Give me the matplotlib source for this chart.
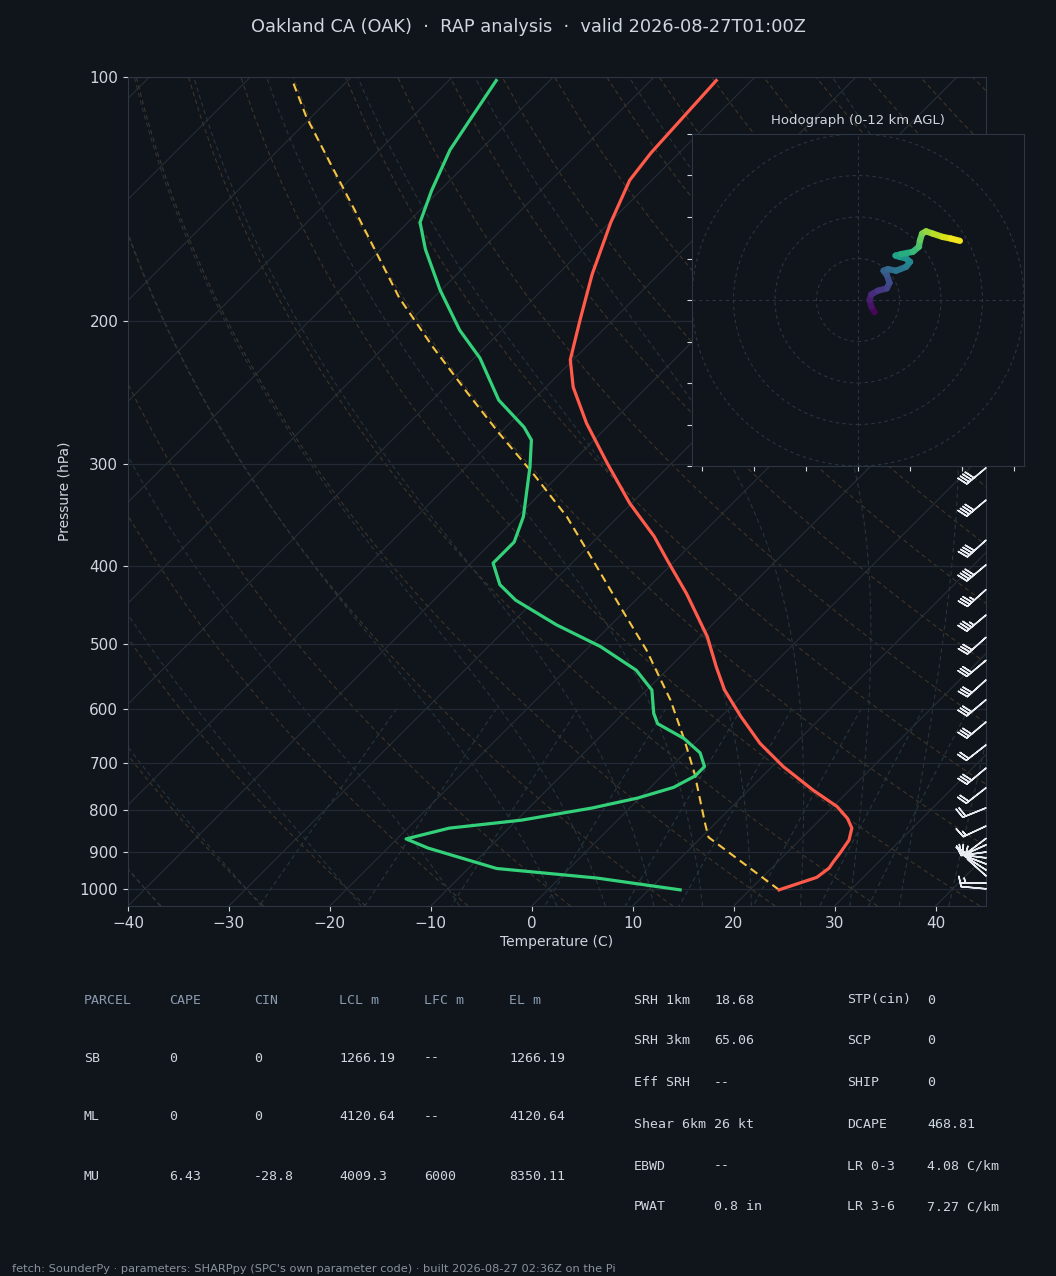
import numpy as np
import matplotlib
matplotlib.use("Agg")
import matplotlib.pyplot as plt
from matplotlib.transforms import Affine2D
from matplotlib.collections import LineCollection
from matplotlib.patches import Circle

BG = "#10141b"
SPINE = "#2d3642"
GRID = "#232a33"
TXT = "#d0d6de"
MUTED = "#8b9bb0"

# --- sounding ---
temp_p = [1003, 968, 943, 926, 904, 871, 842, 819, 792, 756, 707, 662, 613, 569,
          533, 489, 433, 394, 368, 335, 299, 267, 241, 223, 199, 175, 151, 134, 124, 101]
temp_c = [22.9, 25.4, 25.7, 25.5, 25.3, 24.9, 24.0, 22.6, 20.4, 16.4, 11.1, 6.5, 1.9, -2.3,
          -5.4, -9.3, -15.6, -20.8, -24.5, -30.2, -36.4, -42.4, -47.3, -50.3, -53.3, -56.6,
          -59.9, -62.2, -62.8, -63.5]

dwpt_p = [1003, 970, 944, 891, 868, 842, 823, 795, 773, 750, 726, 707, 680, 653, 626,
          608, 569, 538, 503, 473, 441, 422, 397, 374, 348, 302, 280, 270, 250, 222,
          205, 183, 163, 151, 138, 123, 113, 101]
dwpt_c = [13.1, 3.7, -7.2, -16.0, -19.1, -15.9, -9.5, -3.7, -0.2, 2.3, 3.3, 3.3, 1.5, -1.5,
          -5.6, -7.0, -9.5, -13.0, -18.9, -25.4, -31.9, -35.0, -37.8, -37.8, -39.4, -43.7,
          -46.2, -48.2, -53.4, -59.4, -64.2, -70.1, -75.6, -78.8, -80.8, -83.0, -84.0, -85.3]

parcel_p = [1003, 864, 831, 721, 656, 585, 508, 454, 398, 348, 309, 275, 245, 215, 187,
            150, 130, 112, 101]
parcel_c = [22.9, 10.7, 9.0, 3.0, -1.3, -6.7, -14.0, -20.3, -27.6, -35.1, -42.5, -50.0,
            -57.2, -65.2, -73.4, -85.0, -92.6, -100.5, -105.5]

# wind barbs: pressure, direction (deg), speed (kt)
barb_p = [1000, 984, 964, 948, 932, 916, 901, 883, 867, 837, 795, 751, 710, 665, 623,
          585, 553, 523, 490, 460, 428, 399, 372, 332, 303, 275, 250, 225, 200]
barb_dir = [275, 270, 312, 303, 291, 277, 262, 246, 233, 245, 248, 232, 230, 232, 230,
            230, 228, 230, 228, 230, 228, 230, 228, 230, 230, 232, 235, 238, 240]
barb_spd = [10, 5, 10, 10, 10, 10, 10, 10, 10, 15, 20, 20, 30, 20, 30,
            30, 30, 30, 30, 35, 35, 40, 40, 40, 40, 45, 45, 50, 50]

# hodograph (kt) and height (km)
hodo_u = [8.0, 6.4, 5.6, 6.4, 9.6, 13.9, 15.2, 13.9, 12.3, 14.4, 18.4, 23.2, 25.1,
          23.2, 20.0, 18.1, 20.8, 26.4, 29.3, 29.9, 30.9, 32.8, 36.0, 40.8, 44.8, 49.1]
hodo_v = [-5.9, -3.2, 0.0, 2.7, 4.5, 5.6, 8.3, 12.0, 14.1, 14.9, 14.1, 16.0, 18.4,
          20.0, 20.8, 21.4, 22.1, 23.2, 25.6, 28.8, 32.0, 33.1, 32.0, 30.4, 29.6, 28.5]
hodo_z = [0, 0.4, 0.8, 1.2, 1.7, 2.1, 2.6, 3.0, 3.4, 3.8, 4.3, 4.9, 5.4,
          5.9, 6.3, 6.7, 7.1, 7.8, 8.4, 8.9, 9.4, 9.9, 10.4, 11.0, 11.5, 12.0]

# parameter table
parcel_cols = ["PARCEL", "CAPE", "CIN", "LCL m", "LFC m", "EL m"]
parcel_rows = [
    ["SB", "0", "0", "1266.19", "--", "1266.19"],
    ["ML", "0", "0", "4120.64", "--", "4120.64"],
    ["MU", "6.43", "-28.8", "4009.3", "6000", "8350.11"],
]
kin_labels = ["SRH 1km", "SRH 3km", "Eff SRH", "Shear 6km", "EBWD", "PWAT"]
kin_values = ["18.68", "65.06", "--", "26 kt", "--", "0.8 in"]
comp_labels = ["STP(cin)", "SCP", "SHIP", "DCAPE", "LR 0-3", "LR 3-6"]
comp_values = ["0", "0", "0", "468.81", "4.08 C/km", "7.27 C/km"]

W, H = 1056, 1276
fig = plt.figure(figsize=(W / 100, H / 100), dpi=100, facecolor=BG)


def fx(px):
    return px / W


def fy(py):
    return 1 - py / H


ax = fig.add_axes([fx(128), fy(906), fx(858), 829 / H])
ax.set_facecolor(BG)
ax.set_yscale("log")
for s in ax.spines.values():
    s.set_color(SPINE)

# skew so that isotherms run at 45 degrees on screen
ratio = 829 / 858
skew = ax.transScale + ax.transLimits + Affine2D().skew(np.arctan(ratio), 0) + ax.transAxes

# thermodynamic background
Rd, Cp, Lv, eps = 287.04749, 1004.6662, 2.50084e6, 0.622


def sat_mr(p, tk):
    tc = tk - 273.15
    es = 6.112 * np.exp(17.67 * tc / (tc + 243.5))
    return eps * es / (p - es)


def dtdp(p, tk):
    rs = sat_mr(p, tk)
    return (Rd * tk + Lv * rs) / (Cp + Lv * Lv * rs * eps / (Rd * tk * tk)) / p


def moist_curve(t0, pgrid):
    out = np.empty_like(pgrid)
    out[0] = t0 + 273.15
    for i in range(1, len(pgrid)):
        p0, h = pgrid[i - 1], pgrid[i] - pgrid[i - 1]
        t = out[i - 1]
        k1 = dtdp(p0, t)
        k2 = dtdp(p0 + h / 2, t + h / 2 * k1)
        k3 = dtdp(p0 + h / 2, t + h / 2 * k2)
        k4 = dtdp(p0 + h, t + h * k3)
        out[i] = t + h / 6 * (k1 + 2 * k2 + 2 * k3 + k4)
    return out - 273.15


for t in np.arange(-160, 50, 10):
    ax.plot([t, t], [1050, 100], transform=skew, color="#262e37", lw=0.8, zorder=1)

pd = np.linspace(1050, 100, 80)
for t0 in np.arange(-40, 246, 10):
    td = (t0 + 273.15) * (pd / 1000) ** (Rd / Cp) - 273.15
    ax.plot(td, pd, transform=skew, color="#3e3528", lw=0.8, ls=(0, (4, 3)), zorder=1)

up = np.linspace(1000, 100, 181)
down = np.linspace(1000, 1050, 11)
for t0 in np.concatenate((np.arange(-40, 0, 10), np.arange(0, 46, 5))):
    tm = np.concatenate((moist_curve(t0, down)[::-1], moist_curve(t0, up)[1:]))
    pm = np.concatenate((down[::-1], up[1:]))
    ax.plot(tm, pm, transform=skew, color="#27343d", lw=0.8, ls=(0, (4, 3)), zorder=1)

pw = np.linspace(600, 1050, 40)
for w in [0.0004, 0.001, 0.002, 0.004, 0.007, 0.01, 0.016, 0.024, 0.032]:
    e = w * pw / (eps + w)
    val = np.log(e / 6.112)
    tdw = 243.5 * val / (17.67 - val)
    ax.plot(tdw, pw, transform=skew, color="#253740", lw=0.8, ls=(0, (4, 3)), zorder=1)

# profiles
ax.plot(parcel_c, parcel_p, transform=skew, color="#f5c542", lw=1.5, ls=(0, (4, 2.5)), zorder=4)
ax.plot(temp_c, temp_p, transform=skew, color="#ff5a4a", lw=2.3, zorder=5)
ax.plot(dwpt_c, dwpt_p, transform=skew, color="#33d17a", lw=2.3, zorder=5)

# wind barbs on the right edge
wd = np.radians(barb_dir)
bu = -np.array(barb_spd) * np.sin(wd)
bv = -np.array(barb_spd) * np.cos(wd)
ax.barbs(np.ones(len(barb_p)), barb_p, bu, bv, transform=ax.get_yaxis_transform(),
         clip_on=False, color="#e8ecf0", length=6, linewidth=1.1, zorder=6)

ax.set_xlim(-40, 45)
ax.set_ylim(1050, 100)
ax.set_yticks([100, 200, 300, 400, 500, 600, 700, 800, 900, 1000])
ax.set_yticklabels(["100", "200", "300", "400", "500", "600", "700", "800", "900", "1000"])
ax.yaxis.set_minor_locator(matplotlib.ticker.NullLocator())
ax.set_xticks(np.arange(-40, 41, 10))
ax.yaxis.grid(True, color=GRID, lw=0.9)
ax.tick_params(colors=TXT, labelsize=11)
ax.set_xlabel("Temperature (C)", color=TXT, fontsize=10, labelpad=3)
ax.set_ylabel("Pressure (hPa)", color=TXT, fontsize=10, labelpad=6)

fig.text(0.5, fy(27), "Oakland CA (OAK)  \u00b7  RAP analysis  \u00b7  valid 2026-08-27T01:00Z",
         color=TXT, fontsize=12.8, ha="center", va="center")

# hodograph inset
hax = fig.add_axes([fx(692), fy(466), fx(332), 332 / H])
hax.set_facecolor(BG)
for s in hax.spines.values():
    s.set_color(SPINE)
for r in (20, 40, 60, 80):
    hax.add_patch(Circle((0, 0), r, fill=False, ls=(0, (3, 3)), color="#2b3440", lw=0.8))
hax.axhline(0, color="#2b3440", ls=(0, (3, 3)), lw=0.8)
hax.axvline(0, color="#2b3440", ls=(0, (3, 3)), lw=0.8)
pts = np.column_stack([hodo_u, hodo_v])
segs = np.stack([pts[:-1], pts[1:]], axis=1)
zmid = (np.array(hodo_z[:-1]) + np.array(hodo_z[1:])) / 2
lc = LineCollection(segs, cmap="viridis", norm=plt.Normalize(0, 12), lw=4.5, capstyle="round")
lc.set_array(zmid)
hax.add_collection(lc)
hax.set_xlim(-80, 80)
hax.set_ylim(-80, 80)
hax.set_xticks(np.arange(-75, 76, 25))
hax.set_yticks(np.arange(-80, 81, 20))
hax.tick_params(labelleft=False, labelbottom=False, colors=TXT, length=3.5)
hax.set_title("Hodograph (0-12 km AGL)", color=TXT, fontsize=9.5, pad=7)

# parameter tables
mono = "DejaVu Sans Mono"
col_x = [84, 169, 254, 339, 424, 509]
for x, c in zip(col_x, parcel_cols):
    fig.text(fx(x), fy(1000), c, color=MUTED, fontsize=9.5, family=mono, va="center")
for ry, row in zip([1058, 1117, 1176], parcel_rows):
    for x, c in zip(col_x, row):
        fig.text(fx(x), fy(ry), c, color=TXT, fontsize=9.5, family=mono, va="center")

row_y = [1000, 1041, 1083, 1124, 1166, 1207]
for ry, a, b, c, d in zip(row_y, kin_labels, kin_values, comp_labels, comp_values):
    fig.text(fx(634), fy(ry), a, color=TXT, fontsize=9.5, family=mono, va="center")
    fig.text(fx(714), fy(ry), b, color=TXT, fontsize=9.5, family=mono, va="center")
    fig.text(fx(847), fy(ry), c, color=TXT, fontsize=9.5, family=mono, va="center")
    fig.text(fx(927), fy(ry), d, color=TXT, fontsize=9.5, family=mono, va="center")

fig.text(fx(12), fy(1269),
         "fetch: SounderPy \u00b7 parameters: SHARPpy (SPC's own parameter code) \u00b7 built 2026-08-27 02:36Z on the Pi",
         color="#8a929c", fontsize=8.2, va="center")

fig.savefig("out.png", dpi=100, facecolor=BG)
